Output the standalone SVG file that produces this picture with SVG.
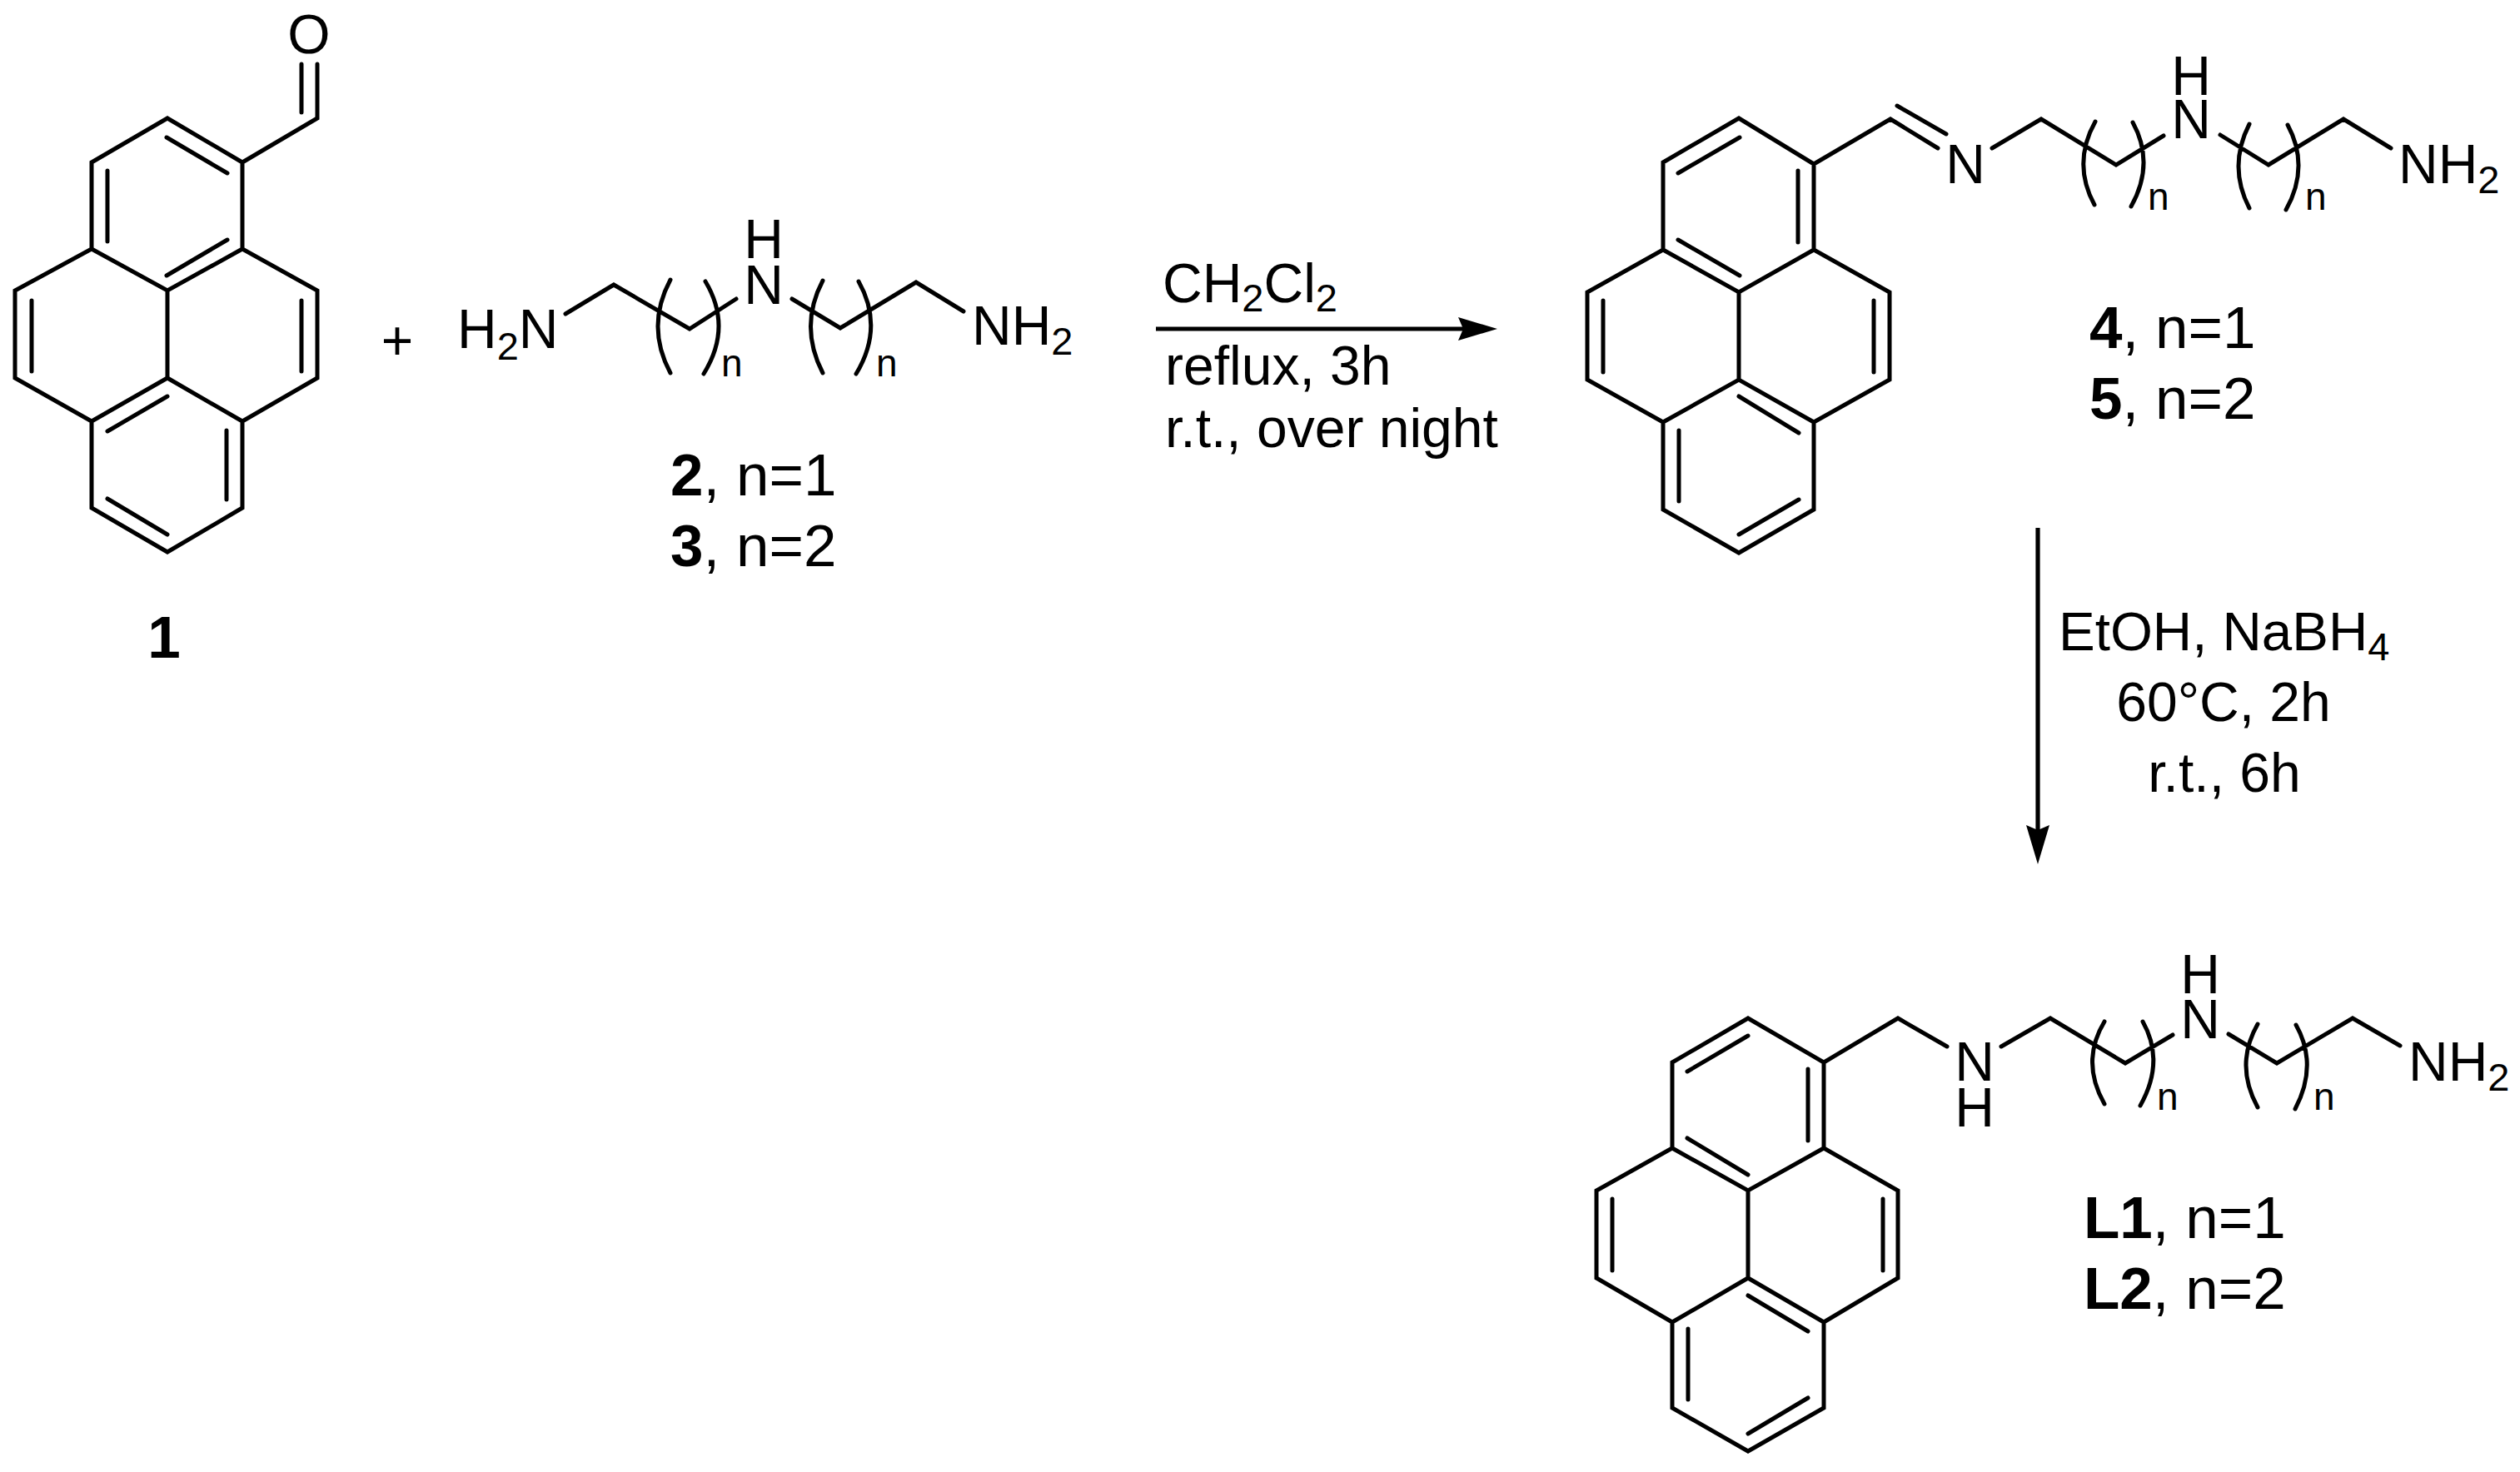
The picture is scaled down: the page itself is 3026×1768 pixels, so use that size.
<svg xmlns="http://www.w3.org/2000/svg" width="3026" height="1768" viewBox="0 0 3026 1768">
<style>
.b{fill:none;stroke:#000;stroke-width:5;stroke-linejoin:miter;stroke-linecap:round}
.a{fill:none;stroke:#000;stroke-width:5.2}
text{font-family:"Liberation Sans",Arial,sans-serif;font-size:66px;fill:#000}
.m{text-anchor:middle}
.r{font-size:65.5px}
.s{font-size:47px}
.n{font-size:46px}
.l{font-size:71px}
.w{font-weight:700}
</style>
<defs>
<marker id="head" markerUnits="userSpaceOnUse" viewBox="-8 -16 52 32" markerWidth="52" markerHeight="32" refX="0" refY="0" orient="auto">
<path d="M-6,-14 L41,0 L-6,14 L0,0 Z" fill="#000"/>
</marker>
</defs>
<g id="compound-1">
<path class="b" d="M110,195 L201,142 L291,195 L291,299 L381,349 L381,454 L291,506 L291,610 L201,663 L110,610 L110,506 L18,454 L18,349 L110,299 Z M110,299 L201,349 L291,299 M201,349 L201,454 M110,506 L201,454 L291,506 M291,195 L381,142 L381,77 M362,77 L362,135 M200,165 L273,208 M129,205 L129,290 M200,331 L273,288 M38,361 L38,446 M362,361 L362,446 M129,518 L201,476 M272,517 L272,600 M129,599 L201,642"/>
<text class="m" x="371" y="64">O</text>
<text class="m l w" x="197" y="790">1</text>
</g>
<g id="plus"><text class="m" x="477" y="432">+</text></g>
<g id="compound-2-3">
<path class="b" d="M679,377 L737,342 L828,395 L884,359 M951,359 L1009,394 L1100,339 L1157,374 M805,336 Q775,392 805,448 M847,338 Q880,393 845,449 M988,337 Q959,392 988,448 M1031,338 Q1062,393 1028,449"/>
<text x="549" y="418">H<tspan class="s" dy="14">2</tspan><tspan dy="-14">N</tspan></text>
<text class="m" x="917" y="365">N</text>
<text class="m" x="917" y="310">H</text>
<text x="1167" y="414">NH<tspan class="s" dy="12">2</tspan></text>
<text class="n" x="866" y="452">n</text>
<text class="n" x="1052" y="452">n</text>
<text class="l" x="805" y="595"><tspan class="w">2</tspan>, n=1</text>
<text class="l" x="805" y="680"><tspan class="w">3</tspan>, n=2</text>
</g>
<g id="compound-4-5">
<path class="b" d="M1997,195 L2088,142 L2178,197 L2178,300 L2269,351 L2269,456 L2178,507 L2178,612 L2088,664 L1997,612 L1997,507 L1906,456 L1906,351 L1997,300 Z M1997,300 L2088,351 L2178,300 M2088,351 L2088,456 M1997,507 L2088,456 L2178,507 M2015,208 L2089,165 M2159,205 L2159,291 M2015,288 L2089,331 M1925,361 L1925,447 M2250,361 L2250,447 M2088,476 L2160,520 M2016,517 L2016,602 M2088,642 L2160,600 M2178,197 L2270,143 L2327,178 M2278,127 L2337,161 M2392,178 L2451,143 L2541,198 L2598,163 M2666,162 L2724,198 L2814,143 L2871,178 M2516,146 Q2488,196 2515,246 M2561,147 Q2588,196 2559,248 M2701,149 Q2675,200 2701,250 M2747,150 Q2774,200 2745,252"/>
<text class="m" x="2360" y="220">N</text>
<text class="m" x="2631" y="166">N</text>
<text class="m" x="2631" y="114">H</text>
<text x="2880" y="220">NH<tspan class="s" dy="12">2</tspan></text>
<text class="n" x="2579" y="252">n</text>
<text class="n" x="2768" y="252">n</text>
<text class="l" x="2509" y="418"><tspan class="w">4</tspan>, n=1</text>
<text class="l" x="2509" y="503"><tspan class="w">5</tspan>, n=2</text>
</g>
<g id="compound-L1-L2">
<path class="b" d="M2008,1276 L2099,1223 L2190,1276 L2190,1379 L2279,1430 L2279,1535 L2190,1588 L2190,1691 L2099,1743 L2008,1691 L2008,1588 L1917,1535 L1917,1430 L2008,1379 Z M2008,1379 L2099,1430 L2190,1379 M2099,1430 L2099,1535 M2008,1588 L2099,1535 L2190,1588 M2026,1287 L2099,1244 M2171,1284 L2171,1370 M2026,1367 L2099,1411 M1936,1440 L1936,1526 M2261,1440 L2261,1526 M2099,1556 L2171,1599 M2027,1596 L2027,1681 M2099,1722 L2171,1679 M2190,1276 L2279,1223 L2338,1257 M2403,1257 L2462,1223 L2552,1277 L2609,1243 M2676,1242 L2734,1277 L2825,1223 L2882,1256 M2527,1227 Q2498,1275 2527,1326 M2573,1227 Q2600,1275 2570,1328 M2711,1230 Q2683,1279 2711,1330 M2757,1231 Q2784,1279 2756,1332"/>
<text class="m" x="2371" y="1298">N</text>
<text class="m" x="2371" y="1353">H</text>
<text class="m" x="2642" y="1247">N</text>
<text class="m" x="2642" y="1193">H</text>
<text x="2892" y="1298">NH<tspan class="s" dy="12">2</tspan></text>
<text class="n" x="2590" y="1333">n</text>
<text class="n" x="2778" y="1333">n</text>
<text class="l" x="2502" y="1487"><tspan class="w">L1</tspan>, n=1</text>
<text class="l" x="2502" y="1572"><tspan class="w">L2</tspan>, n=2</text>
</g>
<g id="connectors">
<path class="a" d="M1388,395 L1757,395" marker-end="url(#head)"/>
<path class="a" d="M2447,634 L2447,997" marker-end="url(#head)"/>
</g>
<g id="conditions-1">
<text x="1396" y="363">CH<tspan class="s" dy="11">2</tspan><tspan dy="-11">Cl</tspan><tspan class="s" dy="11">2</tspan></text>
<text x="1399" y="462">reflux, 3h</text>
<text x="1399" y="537">r.t., over night</text>
</g>
<g id="conditions-2">
<text class="r" x="2472" y="781">EtOH, NaBH<tspan class="s" dy="12">4</tspan></text>
<text class="m" x="2670" y="866">60°C, 2h</text>
<text class="m" x="2671" y="951">r.t., 6h</text>
</g>
</svg>
